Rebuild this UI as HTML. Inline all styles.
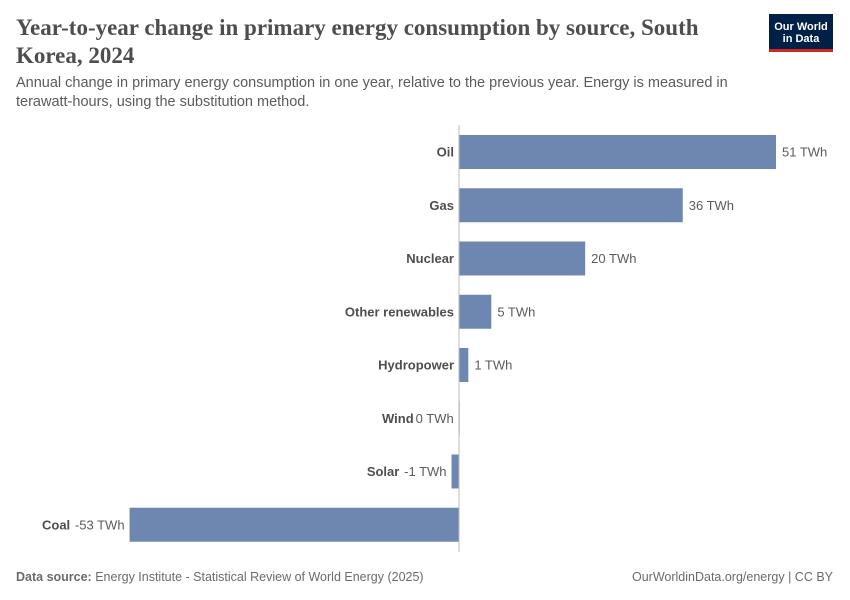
<!DOCTYPE html>
<html><head><meta charset="utf-8">
<style>
body{margin:0;background:#fff;width:850px;height:600px;overflow:hidden;font-family:"Liberation Sans",sans-serif;position:relative}
.title{position:absolute;left:16px;top:14px;width:720px;font-family:"Liberation Serif",serif;font-size:23px;line-height:28px;color:#4e4e4e;font-weight:bold}
.sub{position:absolute;left:16px;top:74px;width:760px;font-size:14.5px;line-height:19px;color:#5b5b5b}
.logo{position:absolute;left:769px;top:14px;width:64px;height:38px;background:#002147;color:#fff;font-size:11px;line-height:12px;text-align:center;font-weight:bold;box-sizing:border-box;padding-top:7px;border-bottom:3px solid #ce261e}
.foot{position:absolute;top:570px;font-size:12.5px;color:#6b6b6b}
</style></head><body>
<div class="title">Year-to-year change in primary energy consumption by source, South Korea, 2024</div>
<div class="sub">Annual change in primary energy consumption in one year, relative to the previous year. Energy is measured in terawatt-hours, using the substitution method.</div>
<div class="logo">Our World<br>in Data</div>
<svg id="chart" width="850" height="600" style="position:absolute;left:0;top:0"></svg>
<div class="foot" style="left:16px"><b>Data source:</b> Energy Institute - Statistical Review of World Energy (2025)</div>
<div class="foot" style="right:17px">OurWorldinData.org/energy | CC BY</div>
<script>
const categories=["Oil","Gas","Nuclear","Other renewables","Hydropower","Wind","Solar","Coal"];
const values=[51,36,20.3,5.2,1.5,-0.05,-1.2,-53];
const valueLabels=["51 TWh","36 TWh","20 TWh","5 TWh","1 TWh","0 TWh","-1 TWh","-53 TWh"];
const svg=document.getElementById('chart');
const NS="http://www.w3.org/2000/svg";
const x0=459, k=(776-459)/51;
const x=v=>x0+v*k;
const yTop=135, pitch=53.25, bh=34;
function mk(t,a){const e=document.createElementNS(NS,t);for(const n in a)e.setAttribute(n,a[n]);svg.appendChild(e);return e;}
categories.forEach((c,i)=>{
  const v=values[i], y=yTop+i*pitch;
  const xa=Math.min(x(0),x(v)), w=Math.max(Math.abs(x(v)-x(0)),1);
  const r=mk('rect',{x:xa,y:y,width:w,height:bh,fill:'#6d87b1'});
  
  
  const vl=mk('text',{y:y+bh/2+4.5,'font-size':13,fill:'#5b5b5b'});
  vl.textContent=valueLabels[i];
  
  
  const cl=mk('text',{y:y+bh/2+4.5,'font-size':13,'font-weight':'bold',fill:'#4e4e4e','text-anchor':'end'});
  cl.textContent=c;
  
  
  if(v>=0){vl.setAttribute('x',x(v)+6);cl.setAttribute('x',x0-5);}
  else{vl.setAttribute('x',x(v)-5);vl.setAttribute('text-anchor','end');
    const vw=valueLabels[i].length*7.2;cl.setAttribute('x',x(v)-5-vw-4);}
});
const ax=mk('line',{x1:x0,x2:x0,y1:125,y2:552,stroke:'#bbb','stroke-width':1});


</script>
</body></html>
